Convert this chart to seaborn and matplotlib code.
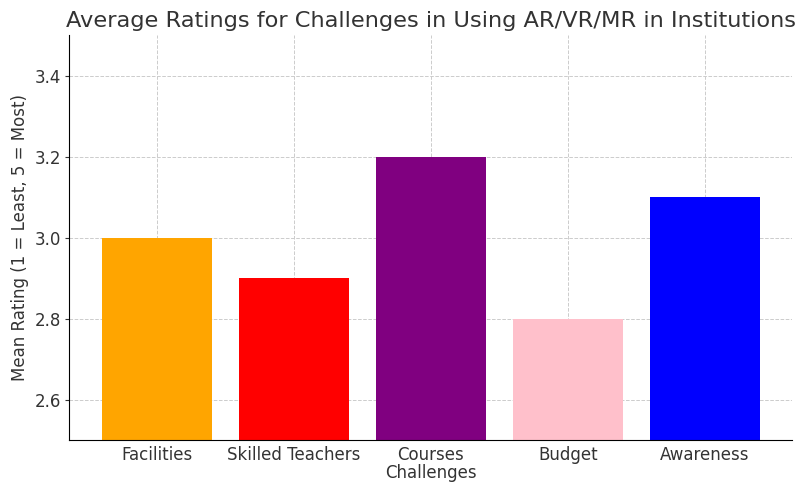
import matplotlib
matplotlib.use("Agg")
import matplotlib.pyplot as plt
import seaborn as sns
import pandas as pd

categories = ["Facilities", "Skilled Teachers", "Courses", "Budget", "Awareness"]
ratings = [3.0, 2.9, 3.2, 2.8, 3.1]
colors = ["orange", "red", "purple", "pink", "blue"]

sns.set_style("white")
plt.rcParams['font.family'] = ['DejaVu Sans']
plt.rcParams['text.color'] = '#333333'
plt.rcParams['axes.labelcolor'] = '#333333'
plt.rcParams['xtick.color'] = '#333333'
plt.rcParams['ytick.color'] = '#333333'

df = pd.DataFrame({"Challenges": categories, "Rating": ratings})

fig = plt.figure(figsize=(7.98, 4.83), dpi=100)
ax = fig.add_axes([0.087, 0.089, 0.906, 0.838])
sns.barplot(data=df, x="Challenges", y="Rating", hue="Challenges",
            palette=colors, legend=False, width=0.8, saturation=1,
            linewidth=0, ax=ax)
ax.set_ylim(2.5, 3.5)
ax.set_xlim(-0.64, 4.64)
ax.set_yticks([2.6, 2.8, 3.0, 3.2, 3.4])
ax.grid(True, linestyle='--', color='#cccccc', linewidth=0.7)
ax.set_axisbelow(True)
for s in ["top", "right"]:
    ax.spines[s].set_visible(False)
for s in ["left", "bottom"]:
    ax.spines[s].set_color('black')
ax.tick_params(axis='both', labelsize=12, color='#333333', left=True, bottom=True)
ax.tick_params(axis='x', direction='in', length=3, pad=4)
ax.tick_params(axis='y', direction='out', length=3, pad=3)
ax.set_title("Average Ratings for Challenges in Using AR/VR/MR in Institutions", fontsize=16.2, pad=6)
ax.set_xlabel("Challenges", fontsize=12, labelpad=0)
ax.set_ylabel("Mean Rating (1 = Least, 5 = Most)", fontsize=12)
fig.savefig("out.png", dpi=100)
